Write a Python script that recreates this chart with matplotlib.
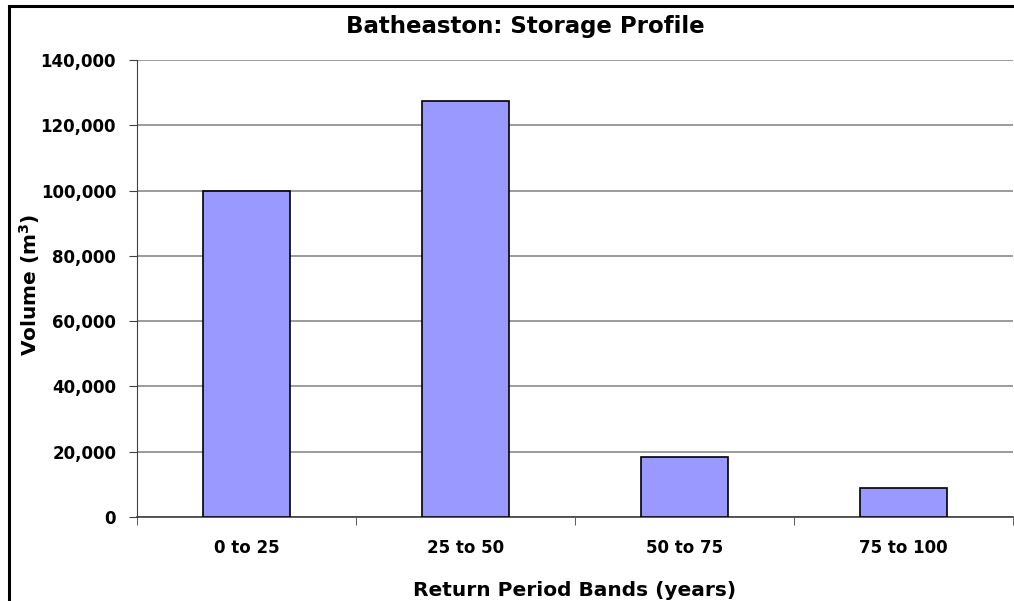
import numpy as np
import matplotlib.pyplot as plt
from matplotlib.ticker import FuncFormatter
from matplotlib.patches import Rectangle

# Storage volume per return period band
bands = ['0 to 25', '25 to 50', '50 to 75', '75 to 100']
volumes = [100000, 127500, 18400, 8900]

plt.rcParams['font.family'] = ['DejaVu Sans']
plt.rcParams['font.weight'] = 'bold'

fig = plt.figure(figsize=(10.14, 6.01), dpi=100)
ax = fig.add_axes([137 / 1014, 1 - 517 / 601, 876 / 1014, 457 / 601])

x = np.arange(len(bands))
ax.bar(x, volumes, width=0.4, color='#9999FF', edgecolor='black', linewidth=1.2, zorder=3)

ax.set_xlim(-0.5, len(bands) - 0.5)
ax.set_ylim(0, 140000)
ax.set_yticks(np.arange(0, 140001, 20000))
ax.yaxis.set_major_formatter(FuncFormatter(lambda v, p: f'{int(v):,}'))
ax.set_xticks(x)
ax.set_xticklabels(bands)
ax.set_xticks(np.arange(len(bands) + 1) - 0.5, minor=True)
ax.tick_params(axis='x', which='major', length=0, pad=16, labelsize=12)
ax.tick_params(axis='x', which='minor', length=6, direction='out', color='#404040')
ax.tick_params(axis='y', length=6, direction='out', color='#404040', labelsize=12, pad=9)
for lbl in ax.get_xticklabels() + ax.get_yticklabels():
    lbl.set_fontweight('bold')

ax.grid(axis='y', color='#808080', linewidth=1.1, zorder=0)
for s in ['top', 'right']:
    ax.spines[s].set_visible(False)
ax.spines['left'].set_color('#404040')
ax.spines['bottom'].set_color('#404040')
ax.spines['bottom'].set_linewidth(1.2)

ax.set_ylabel('Volume (m$^3$)', fontsize=14.5, fontweight='bold')
ax.yaxis.set_label_coords(42 / 1014, 1 - 285 / 601, transform=fig.transFigure)
fig.text(0.5 * (137 + 1013) / 1014, 1 - 590 / 601, 'Return Period Bands (years)',
         ha='center', va='center', fontsize=14.5, fontweight='bold')
fig.text(525 / 1014, 1 - 27 / 601, 'Batheaston: Storage Profile',
         ha='center', va='center', fontsize=16.5, fontweight='bold')

# chart border
fig.add_artist(Rectangle((9 / 1014, -0.05), 1.1, 1 - 6 / 601 + 0.05, transform=fig.transFigure,
                         fill=False, edgecolor='black', linewidth=2.2))

fig.savefig('out.png', dpi=100)
